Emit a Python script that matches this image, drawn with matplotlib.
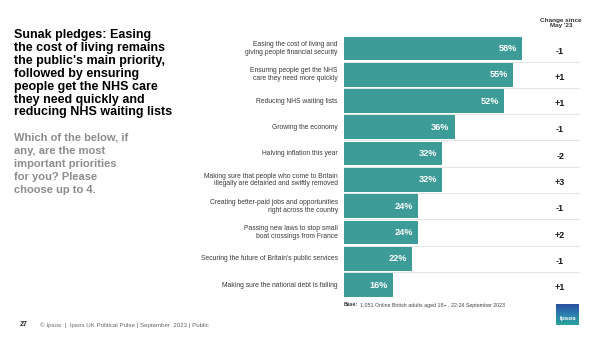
import numpy as np
import matplotlib.pyplot as plt
from matplotlib.colors import LinearSegmentedColormap

plt.rcParams['font.family'] = ['Liberation Sans', 'DejaVu Sans']

categories = [
    "Easing the cost of living and\ngiving people financial security",
    "Ensuring people get the NHS\ncare they need more quickly",
    "Reducing NHS waiting lists",
    "Growing the economy",
    "Halving inflation this year",
    "Making sure that people who come to Britain\nillegally are detained and swiftly removed",
    "Creating better-paid jobs and opportunities\nright across the country",
    "Passing new laws to stop small\nboat crossings from France",
    "Securing the future of Britain's public services",
    "Making sure the national debt is falling",
]
values = [58, 55, 52, 36, 32, 32, 24, 24, 22, 16]
changes = ["-1", "+1", "+1", "-1", "-2", "+3", "-1", "+2", "-1", "+1"]

W, H = 602, 338
TEAL = "#3d9b98"

fig = plt.figure(figsize=(W / 100, H / 100), dpi=100)
fig.patch.set_facecolor("white")

def fx(px):
    return px / W

def fy(py):
    return 1 - py / H

# bar area: x 344..580 px, rows from y 35 to 298 px
x0, x1 = 344, 580
y0, y1 = 35.3, 298.2
ax = fig.add_axes([fx(x0), fy(y1), fx(x1) - fx(x0), (y1 - y0) / H])
px_per_pct = 3.07
ax.set_xlim(0, (x1 - x0) / px_per_pct)
n = len(values)
ax.set_ylim(n - 0.5, -0.5)
ax.axis("off")

ypos = np.arange(n)
for i in range(n - 1):
    ax.plot([0, ax.get_xlim()[1]], [i + 0.5, i + 0.5], color="#e3e6e6", lw=0.8, zorder=1)

ax.barh(ypos, values, height=0.9, color=TEAL, zorder=2)

for i, (v, c, ch) in enumerate(zip(values, categories, changes)):
    ax.text(v - 1.6, i, f"{v}%", ha="right", va="center", color="white",
            fontsize=6.6, fontweight="bold", zorder=3)
    ax.text(-2.0, i, c, ha="right", va="center", color="#3a3a3a",
            fontsize=4.9, linespacing=1.15, clip_on=False)
    ax.text(70.4, i + 0.1, ch, ha="center", va="center", color="#1a1a1a",
            fontsize=6.5, fontweight="bold", clip_on=False)

# column header
fig.text(fx(561), fy(23), "Change since\nMay '23", ha="center", va="center",
         fontsize=4.6, color="#333333", fontweight="bold", linespacing=1.0)

# title and question
fig.text(fx(14), fy(29), "Sunak pledges: Easing\nthe cost of living remains\nthe public's main priority,\n"
         "followed by ensuring\npeople get the NHS care\nthey need quickly and\nreducing NHS waiting lists",
         ha="left", va="top", fontsize=9, fontweight="bold", color="black", linespacing=1.1)
fig.text(fx(14), fy(133), "Which of the below, if\nany, are the most\nimportant priorities\nfor you? Please\nchoose up to 4.",
         ha="left", va="top", fontsize=8, fontweight="bold", color="#8c8c8c", linespacing=1.38)

# base note
fig.text(fx(344), fy(305), "Base:", ha="left", va="center", fontsize=3.8,
         fontweight="bold", color="#333333")
fig.text(fx(360), fy(305), "1,051 Online British adults aged 18+ , 22-26 September 2023",
         ha="left", va="center", fontsize=3.8, color="#444444")

# footer
fig.text(fx(20), fy(325), "27", ha="left", va="center", fontsize=5, fontweight="bold", color="#222222")
fig.text(fx(40), fy(325), "© Ipsos  |  Ipsos UK Political Pulse | September  2023 | Public",
         ha="left", va="center", fontsize=4.4, color="#666666")

# Ipsos logo
lax = fig.add_axes([fx(556), fy(325), fx(579) - fx(556), (325 - 304) / H])
grad = np.linspace(0, 1, 50).reshape(-1, 1)
cmap = LinearSegmentedColormap.from_list("ip", ["#2a4fa0", "#2a7fb0", "#2aa39a"])
lax.imshow(grad, aspect="auto", cmap=cmap, extent=[0, 1, 0, 1], origin="upper")
lax.text(0.5, 0.3, "Ipsos", ha="center", va="center", color="white", fontsize=4.6, fontweight="bold")
lax.axis("off")

fig.savefig("out.png", dpi=100)
